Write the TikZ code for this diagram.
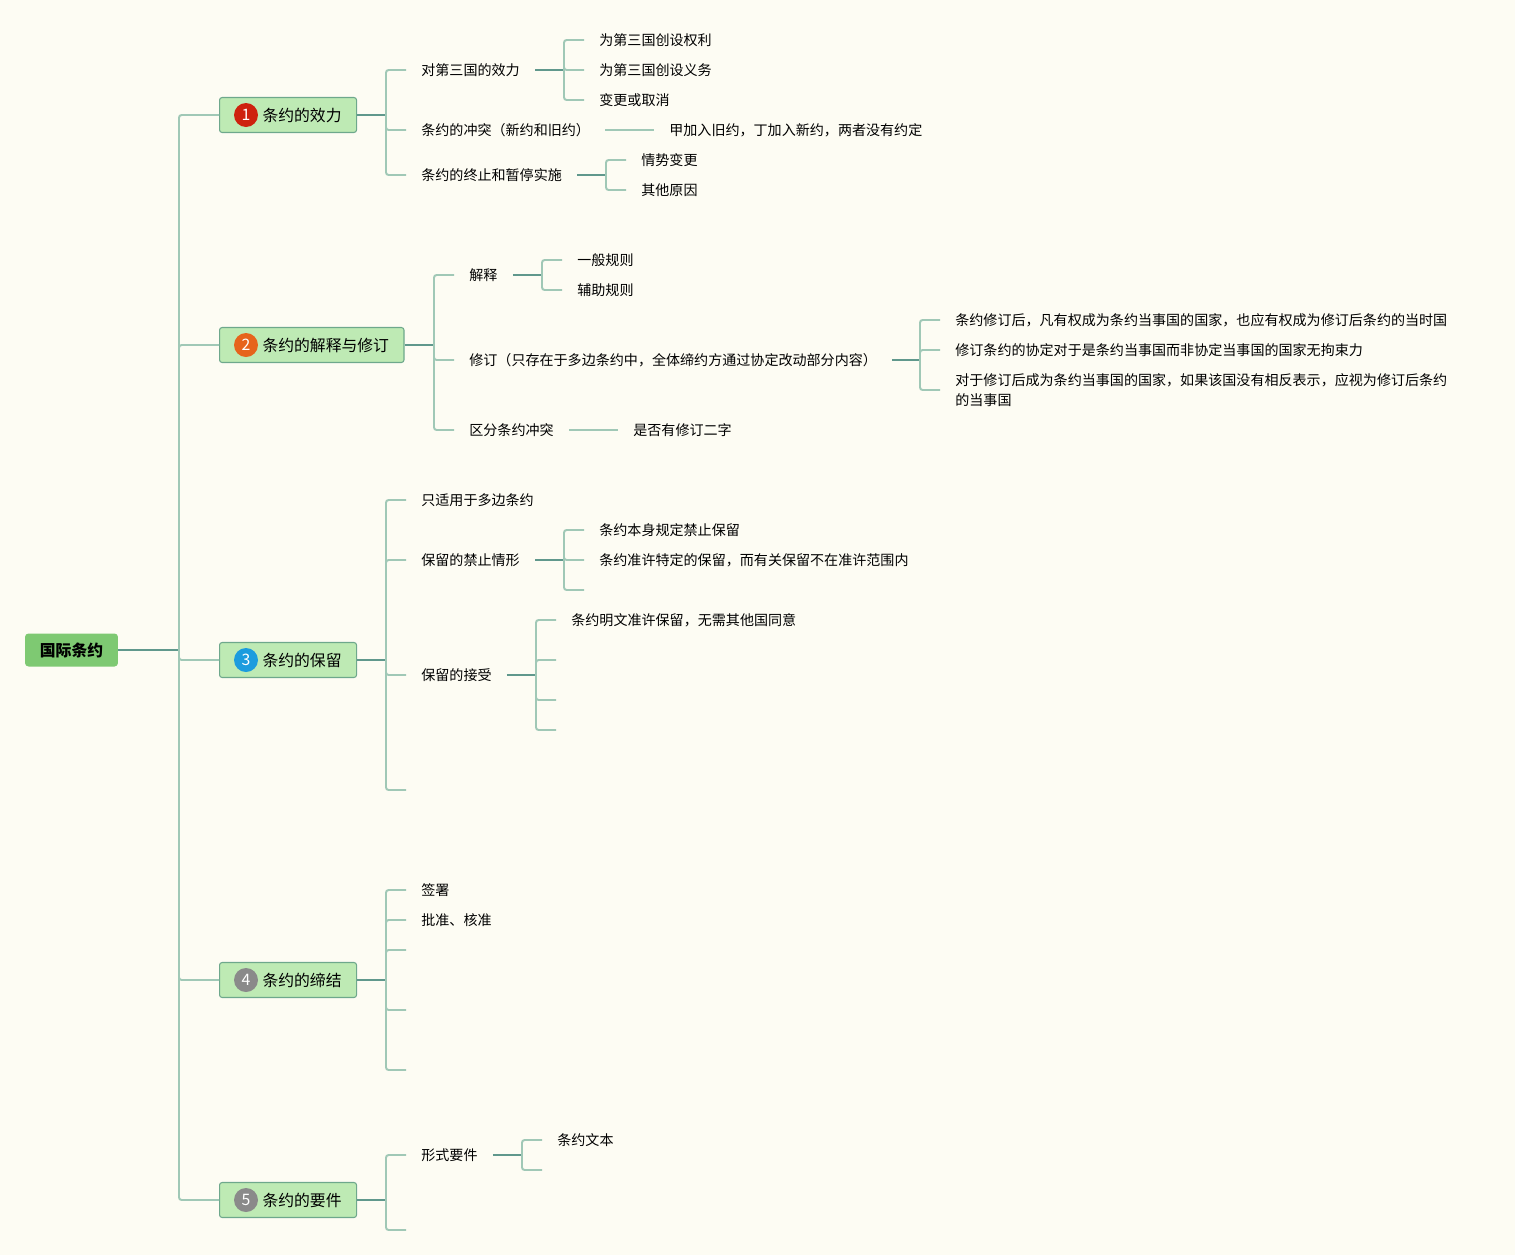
\documentclass[tikz,border=0pt]{standalone}
\usepackage{fontspec}
\setmainfont{Noto Sans CJK SC}
\usetikzlibrary{positioning}
\definecolor{bgcol}{RGB}{253,252,243}
\definecolor{lightln}{RGB}{160,200,182}
\definecolor{darkln}{RGB}{96,152,140}
\definecolor{topicfill}{RGB}{190,234,180}
\definecolor{topicdraw}{RGB}{110,168,140}
\definecolor{rootfill}{RGB}{126,201,114}
\definecolor{cred}{RGB}{206,34,14}
\definecolor{corange}{RGB}{230,100,28}
\definecolor{cblue}{RGB}{28,156,222}
\definecolor{cgray}{RGB}{138,138,138}
\begin{document}
\begin{tikzpicture}[x=0.02cm, y=-0.02cm,
		rootbox/.style={fill=rootfill, rounded corners=2pt, minimum width=1.86cm, minimum height=0.66cm, inner sep=0pt, font=\fontsize{9}{11}\selectfont\bfseries},
		topic/.style={anchor=west, fill=topicfill, draw=topicdraw, line width=0.6pt, rounded corners=1.5pt, minimum height=0.7cm, inner xsep=0.3cm, inner ysep=0pt, font=\fontsize{9}{11}\selectfont},
		badge/.style={circle, minimum size=0.48cm, inner sep=0pt, text=white, font=\fontsize{9}{11}\selectfont},
		leaf/.style={anchor=west, inner xsep=0.3cm, inner ysep=1pt, font=\fontsize{8}{11.4}\selectfont},
		thin/.style={draw=lightln, line width=1.1pt, rounded corners=1.5pt},
		thick/.style={draw=darkln, line width=1.4pt}]
		\fill[bgcol] (0,0) rectangle (1515,1255);
		\useasboundingbox (0,0) rectangle (1515,1255);
		\node[rootbox] (gj) at (71.5,650) {国际条约};
		\coordinate (sp) at (179,650);
		\node[topic] (t1) at (219,115) {\hspace{0.56cm}条约的效力};
		\node[topic] (t2) at (219,345) {\hspace{0.56cm}条约的解释与修订};
		\node[topic] (t3) at (219,660) {\hspace{0.56cm}条约的保留};
		\node[topic] (t4) at (219,980) {\hspace{0.56cm}条约的缔结};
		\node[topic] (t5) at (219,1200) {\hspace{0.56cm}条约的要件};
		\node[badge, fill=cred] (n1) at (246,115) {1};
		\node[badge, fill=corange] (n2) at (246,345) {2};
		\node[badge, fill=cblue] (n3) at (246,660) {3};
		\node[badge, fill=cgray] (n4) at (246,980) {4};
		\node[badge, fill=cgray] (n5) at (246,1200) {5};
		\draw[thick] (gj.east) -- (sp);
		\foreach \t in {t1,t2,t3,t4,t5}
			\draw[thin] (sp) |- (\t.west);
		\node[leaf] (a11) at (406,70) {对第三国的效力};
		\node[leaf] (a12) at (406,130) {条约的冲突（新约和旧约）};
		\node[leaf] (a13) at (406,175) {条约的终止和暂停实施};
		\node[leaf] (a111) at (584,40) {为第三国创设权利};
		\node[leaf] (a112) at (584,70) {为第三国创设义务};
		\node[leaf] (a113) at (584,100) {变更或取消};
		\node[leaf] (a121) at (654,130) {甲加入旧约，丁加入新约，两者没有约定};
		\node[leaf] (a131) at (626,160) {情势变更};
		\node[leaf] (a132) at (626,190) {其他原因};
		\coordinate (j1) at (386,115);
		\coordinate (j11) at (564,70);
		\coordinate (j13) at (606,175);
		\draw[thick] (t1.east) -- (j1);
		\foreach \c in {a11,a12,a13}
			\draw[thin] (j1) |- (\c.west);
		\draw[thick] (a11.east) -- (j11);
		\foreach \c in {a111,a112,a113}
			\draw[thin] (j11) |- (\c.west);
		\draw[thin] (a12.east) -- (a121.west);
		\draw[thick] (a13.east) -- (j13);
		\foreach \c in {a131,a132}
			\draw[thin] (j13) |- (\c.west);
		\node[leaf] (b1) at (454,275) {解释};
		\node[leaf] (b2) at (454,360) {修订（只存在于多边条约中，全体缔约方通过协定改动部分内容）};
		\node[leaf] (b3) at (454,430) {区分条约冲突};
		\node[leaf] (b11) at (562,260) {一般规则};
		\node[leaf] (b12) at (562,290) {辅助规则};
		\node[leaf] (b21) at (940,320) {条约修订后，凡有权成为条约当事国的国家，也应有权成为修订后条约的当时国};
		\node[leaf] (b22) at (940,350) {修订条约的协定对于是条约当事国而非协定当事国的国家无拘束力};
		\node[leaf, align=left] (b23) at (940,390) {对于修订后成为条约当事国的国家，如果该国没有相反表示，应视为修订后条约\\的当事国};
		\node[leaf] (b31) at (618,430) {是否有修订二字};
		\coordinate (j2) at (434,345);
		\coordinate (j21) at (542,275);
		\coordinate (j22) at (920,360);
		\draw[thick] (t2.east) -- (j2);
		\foreach \c in {b1,b2,b3}
			\draw[thin] (j2) |- (\c.west);
		\draw[thick] (b1.east) -- (j21);
		\foreach \c in {b11,b12}
			\draw[thin] (j21) |- (\c.west);
		\draw[thick] (b2.east) -- (j22);
		\foreach \c in {b21,b22,b23}
			\draw[thin] (j22) |- (\c.west);
		\draw[thin] (b3.east) -- (b31.west);
		\node[leaf] (c1) at (406,500) {只适用于多边条约};
		\node[leaf] (c2) at (406,560) {保留的禁止情形};
		\node[leaf] (c3) at (406,675) {保留的接受};
		\coordinate (c4) at (406,790);
		\node[leaf] (c21) at (584,530) {条约本身规定禁止保留};
		\node[leaf] (c22) at (584,560) {条约准许特定的保留，而有关保留不在准许范围内};
		\coordinate (c23) at (584,590);
		\node[leaf] (c31) at (556,620) {条约明文准许保留，无需其他国同意};
		\coordinate (c32) at (556,660);
		\coordinate (c33) at (556,700);
		\coordinate (c34) at (556,730);
		\coordinate (j3) at (386,660);
		\coordinate (j32) at (564,560);
		\coordinate (j33) at (536,675);
		\draw[thick] (t3.east) -- (j3);
		\foreach \c in {c1.west,c2.west,c3.west,c4}
			\draw[thin] (j3) |- (\c);
		\draw[thick] (c2.east) -- (j32);
		\foreach \c in {c21.west,c22.west,c23}
			\draw[thin] (j32) |- (\c);
		\draw[thick] (c3.east) -- (j33);
		\foreach \c in {c31.west,c32,c33,c34}
			\draw[thin] (j33) |- (\c);
		\node[leaf] (d1) at (406,890) {签署};
		\node[leaf] (d2) at (406,920) {批准、核准};
		\coordinate (d3) at (406,950);
		\coordinate (d4) at (406,1010);
		\coordinate (d5) at (406,1070);
		\coordinate (j4) at (386,980);
		\draw[thick] (t4.east) -- (j4);
		\foreach \c in {d1.west,d2.west,d3,d4,d5}
			\draw[thin] (j4) |- (\c);
		\node[leaf] (e1) at (406,1155) {形式要件};
		\coordinate (e2) at (406,1230);
		\node[leaf] (e11) at (542,1140) {条约文本};
		\coordinate (e12) at (542,1170);
		\coordinate (j5) at (386,1200);
		\coordinate (j51) at (522,1155);
		\draw[thick] (t5.east) -- (j5);
		\foreach \c in {e1.west,e2}
			\draw[thin] (j5) |- (\c);
		\draw[thick] (e1.east) -- (j51);
		\foreach \c in {e11.west,e12}
			\draw[thin] (j51) |- (\c);
\end{tikzpicture}
\end{document}
